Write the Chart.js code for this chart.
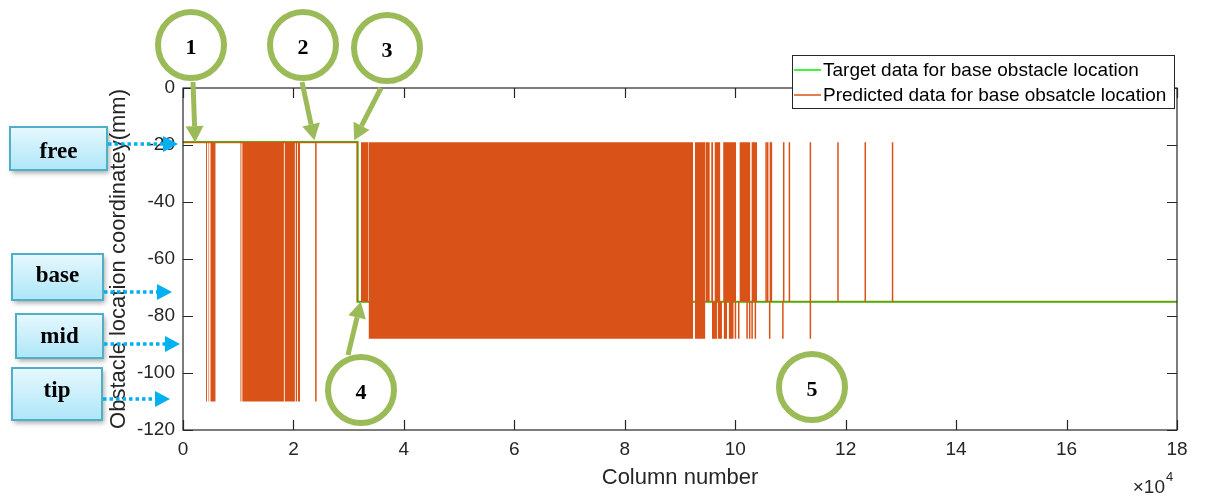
<!DOCTYPE html>
<html>
<head>
<meta charset="utf-8">
<title>Base obstacle location</title>
<script src="https://cdn.jsdelivr.net/npm/chart.js@4/dist/chart.umd.min.js"></script>
<style>
  html, body { margin: 0; padding: 0; background: #fff; }
  #wrap { width: 1205px; height: 501px; position: relative; }
  canvas { display: block; }
</style>
</head>
<body>
<div id="wrap"><canvas id="plot" width="1205" height="501"></canvas></div>
<script>
// ---- Target obstacle position (mm) against column number ----
const targetCols   = [0, 31600, 31600, 180000];
const targetLevels = [-19, -19, -75, -75];

// ---- Predicted position: resting level ----
const restCols   = [0, 31600, 31600, 180000];
const restLevels = [-19, -19, -75, -75];

// ---- Predicted position: isolated excursions away from the resting level ----
const swingCols   = [24060, 100040, 100640, 102150, 102620, 103060, 103650, 105590, 105880,
                     106240, 106370, 106550, 108630, 108780, 109810, 113610, 113610, 118610,
                     123550, 128490];
const swingLevels = [-110, -88, -88, -88, -88, -88, -88, -19, -19,
                     -88, -19, -19, -88, -19, -19, -19, -88, -19,
                     -19, -19];

// ---- Predicted position: stretches where the output flips between two levels ----
const burstFrom = [4160, 4580, 4940, 10370, 10720, 18380, 20370, 20760,
                   32200, 33600, 92700, 94600, 95640, 96240, 97810, 100760, 102930,
                   95790, 96800, 97900, 98820];
const burstTo   = [4340, 4760, 5920, 10620, 18280, 20270, 20660, 21220,
                   33600, 92400, 94600, 95400, 96000, 97320, 100160, 102750, 103960,
                   96690, 97600, 98520, 99730];
const burstHigh = [-19, -19, -19, -19, -19, -19, -19, -19,
                   -19, -19, -19, -19, -19, -19, -19, -19, -19,
                   -75, -75, -75, -75];
const burstLow  = [-110, -110, -110, -110, -110, -110, -110, -110,
                   -75, -88, -88, -75, -75, -75, -75, -75, -75,
                   -88, -88, -88, -88];

// ---- Axis ticks ----
const xTickCols   = [0, 20000, 40000, 60000, 80000, 100000, 120000, 140000, 160000, 180000];
const yTickLevels = [0, -20, -40, -60, -80, -100, -120];

const SANS  = "'Liberation Sans', Arial, Helvetica, sans-serif";
const SERIF = "'Liberation Serif', 'Times New Roman', serif";
const ORANGE = '#D95319';
const GREEN  = '#00F000';
const INK    = '#262626';

// Build the point lists the line controller needs
const targetPts = targetCols.map((c, i) => ({ x: c, y: targetLevels[i] }));

function restAt(col) {
  let lvl = restLevels[0];
  for (let i = 0; i < restCols.length; i++) if (restCols[i] <= col) lvl = restLevels[i];
  return lvl;
}
const predEvents = restCols.map((c, i) => ({ x: c, y: restLevels[i], seq: i * 10 }));
swingCols.forEach((c, i) => {
  const base = restAt(c);
  const s = 1000 + i * 10;
  predEvents.push({ x: c, y: base, seq: s }, { x: c, y: swingLevels[i], seq: s + 1 }, { x: c, y: base, seq: s + 2 });
});
predEvents.sort((a, b) => a.x - b.x || a.seq - b.seq);
const predictedPts = predEvents.map(p => ({ x: p.x, y: p.y }));
const settled = restLevels[restLevels.length - 1];

const burstSets = burstFrom.map((f, i) => ({
  label: '',
  data: [{ x: f, y: burstLow[i] }, { x: burstTo[i], y: burstLow[i] }],
  borderWidth: 0,
  borderColor: 'rgba(0,0,0,0)',
  backgroundColor: ORANGE,
  pointRadius: 0,
  fill: { value: burstHigh[i] },
  order: 1
}));

// Box around the axes with inward tick marks on all four sides
const axesFrame = {
  id: 'axesFrame',
  afterDatasetsDraw(chart) {
    const { ctx, chartArea: a, scales: { x, y } } = chart;
    ctx.save();
    ctx.strokeStyle = INK;
    ctx.lineWidth = 1.2;
    ctx.strokeRect(a.left, a.top, a.right - a.left, a.bottom - a.top);
    const len = 10;
    ctx.beginPath();
    xTickCols.forEach(v => {
      const px = Math.round(x.getPixelForValue(v)) + 0.5;
      ctx.moveTo(px, a.bottom); ctx.lineTo(px, a.bottom - len);
      ctx.moveTo(px, a.top);    ctx.lineTo(px, a.top + len);
    });
    yTickLevels.forEach(v => {
      const py = Math.round(y.getPixelForValue(v)) + 0.5;
      ctx.moveTo(a.left, py);  ctx.lineTo(a.left + len, py);
      ctx.moveTo(a.right, py); ctx.lineTo(a.right - len, py);
    });
    ctx.stroke();
    ctx.restore();
  }
};

// Call-outs, state labels, legend and exponent label
const callouts = {
  id: 'callouts',
  afterDraw(chart) {
    const { ctx, scales: { x, y } } = chart;
    const olive = '#9BBB59';
    const sky = '#00B0F0';

    function ring(cx, cy, label) {
      ctx.save();
      ctx.strokeStyle = olive;
      ctx.lineWidth = 6;
      ctx.beginPath();
      ctx.arc(cx, cy, 33, 0, Math.PI * 2);
      ctx.stroke();
      ctx.fillStyle = '#000';
      ctx.font = 'bold 22px ' + SERIF;
      ctx.textAlign = 'center';
      ctx.textBaseline = 'middle';
      ctx.fillText(label, cx, cy + 3);
      ctx.restore();
    }
    function pointer(x0, y0, x1, y1) {
      const ang = Math.atan2(y1 - y0, x1 - x0);
      const head = 16, half = 9;
      const bx = x1 - head * Math.cos(ang), by = y1 - head * Math.sin(ang);
      ctx.save();
      ctx.strokeStyle = olive;
      ctx.fillStyle = olive;
      ctx.lineWidth = 5;
      ctx.beginPath();
      ctx.moveTo(x0, y0); ctx.lineTo(bx, by);
      ctx.stroke();
      ctx.beginPath();
      ctx.moveTo(x1, y1);
      ctx.lineTo(bx + half * Math.sin(ang), by - half * Math.cos(ang));
      ctx.lineTo(bx - half * Math.sin(ang), by + half * Math.cos(ang));
      ctx.closePath();
      ctx.fill();
      ctx.restore();
    }
    function stateBox(bx, by, bw, bh, text, ty, arrowY, arrowEnd) {
      ctx.save();
      ctx.shadowColor = 'rgba(0,0,0,0.35)';
      ctx.shadowBlur = 5;
      ctx.shadowOffsetX = 2;
      ctx.shadowOffsetY = 3;
      const g = ctx.createLinearGradient(0, by, 0, by + bh);
      g.addColorStop(0, '#E6F8FE');
      g.addColorStop(1, '#AEE6F8');
      ctx.fillStyle = g;
      ctx.fillRect(bx, by, bw, bh);
      ctx.restore();
      ctx.save();
      ctx.strokeStyle = '#4FAFC9';
      ctx.lineWidth = 2;
      ctx.strokeRect(bx, by, bw, bh);
      ctx.fillStyle = '#000';
      ctx.font = 'bold 23px ' + SERIF;
      ctx.textAlign = 'center';
      ctx.textBaseline = 'middle';
      ctx.fillText(text, bx + bw / 2, ty);
      // dotted pointer to the level on the axis
      const x0 = bx + bw + 1, headLen = 15;
      ctx.strokeStyle = sky;
      ctx.fillStyle = sky;
      ctx.lineWidth = 3.5;
      ctx.setLineDash([3.5, 3]);
      ctx.beginPath();
      ctx.moveTo(x0, arrowY); ctx.lineTo(arrowEnd - headLen, arrowY);
      ctx.stroke();
      ctx.setLineDash([]);
      ctx.beginPath();
      ctx.moveTo(arrowEnd, arrowY);
      ctx.lineTo(arrowEnd - headLen, arrowY - 8);
      ctx.lineTo(arrowEnd - headLen, arrowY + 8);
      ctx.closePath();
      ctx.fill();
      ctx.restore();
    }

    // numbered call-outs pointing at the traces
    const topY = y.getPixelForValue(-19);
    ring(191, 45, '1');
    pointer(193, 82, x.getPixelForValue(2200), topY);
    ring(303, 45, '2');
    pointer(302, 82, x.getPixelForValue(23800), topY - 2);
    ring(387, 48, '3');
    pointer(381, 88, x.getPixelForValue(31000), topY - 2);
    ring(361, 390, '4');
    pointer(348, 355, x.getPixelForValue(32200), y.getPixelForValue(-75));
    ring(812, 387, '5');

    // obstacle state labels
    stateBox(10, 127, 97, 43, 'free', 152, 144, 178);
    stateBox(12, 254, 91, 46, 'base', 276, 292, 172);
    stateBox(16, 314, 87, 44, 'mid', 337, 344, 180);
    stateBox(12, 368, 90, 52, 'tip', 391, 399, 170);

    // legend
    ctx.save();
    ctx.fillStyle = '#fff';
    ctx.fillRect(792, 55, 382, 53);
    ctx.strokeStyle = INK;
    ctx.lineWidth = 1;
    ctx.strokeRect(792.5, 55.5, 382, 53);
    const ds = chart.data.datasets;
    const rows = [{ d: ds[0], c: GREEN, yy: 70 }, { d: ds[1], c: ORANGE, yy: 95 }];
    ctx.font = '19px ' + SANS;
    ctx.textBaseline = 'middle';
    ctx.textAlign = 'left';
    rows.forEach(r => {
      ctx.strokeStyle = r.c;
      ctx.lineWidth = 1.5;
      ctx.beginPath();
      ctx.moveTo(794, r.yy); ctx.lineTo(821, r.yy);
      ctx.stroke();
      ctx.fillStyle = '#000';
      ctx.fillText(r.d.label, 823, r.yy + 1);
    });
    ctx.restore();

    // exponent of the column axis
    ctx.save();
    ctx.fillStyle = INK;
    ctx.textBaseline = 'alphabetic';
    ctx.textAlign = 'left';
    ctx.font = '19px ' + SANS;
    const base = '\u00D710';
    const bw = ctx.measureText(base).width;
    const bx0 = 1165 - bw;
    ctx.fillText(base, bx0, 493);
    ctx.font = '13px ' + SANS;
    ctx.fillText('4', bx0 + bw + 1, 481);
    ctx.restore();
  }
};

new Chart(document.getElementById('plot'), {
  type: 'line',
  data: {
    datasets: [
      {
        label: 'Target data for base obstacle location',
        data: targetPts,
        borderColor: GREEN,
        borderWidth: 2.2,
        pointRadius: 0,
        fill: false,
        order: 2
      },
      {
        label: 'Predicted data for base obsatcle location',
        data: predictedPts,
        borderColor: ORANGE,
        borderWidth: 1.5,
        pointRadius: 0,
        fill: false,
        order: 0,
        segment: {
          borderColor: c => (c.p0.parsed.y === settled && c.p1.parsed.y === settled) ? 'rgba(217,83,25,0.6)' : undefined
        }
      },
      ...burstSets
    ]
  },
  options: {
    responsive: false,
    animation: false,
    events: [],
    layout: { padding: { left: 0, top: 88, right: 28, bottom: 0 } },
    plugins: { legend: { display: false }, tooltip: { enabled: false } },
    scales: {
      x: {
        type: 'linear',
        min: 0, max: 180000,
        afterBuildTicks: s => { s.ticks = xTickCols.map(v => ({ value: v })); },
        ticks: {
          callback: v => String(v / 10000),
          font: { family: SANS, size: 19 },
          color: INK,
          padding: 8,
          maxRotation: 0,
          autoSkip: false
        },
        grid: { display: false, drawTicks: false },
        border: { display: false },
        title: {
          display: true,
          text: 'Column number',
          font: { family: SANS, size: 22 },
          color: INK,
          padding: { top: 0, bottom: 10 }
        },
        afterFit: s => { s.height = 71; }
      },
      y: {
        min: -120, max: 0,
        afterBuildTicks: s => { s.ticks = yTickLevels.map(v => ({ value: v })); },
        ticks: {
          callback: v => String(v),
          font: { family: SANS, size: 19 },
          color: INK,
          padding: 8,
          autoSkip: false
        },
        grid: { display: false, drawTicks: false },
        border: { display: false },
        title: {
          display: true,
          text: 'Obstacle location coordinatey(mm)',
          font: { family: SANS, size: 22 },
          color: INK,
          padding: { top: 106, bottom: 0 }
        },
        afterFit: s => { s.width = 183; }
      }
    }
  },
  plugins: [axesFrame, callouts]
});
</script>
</body>
</html>
